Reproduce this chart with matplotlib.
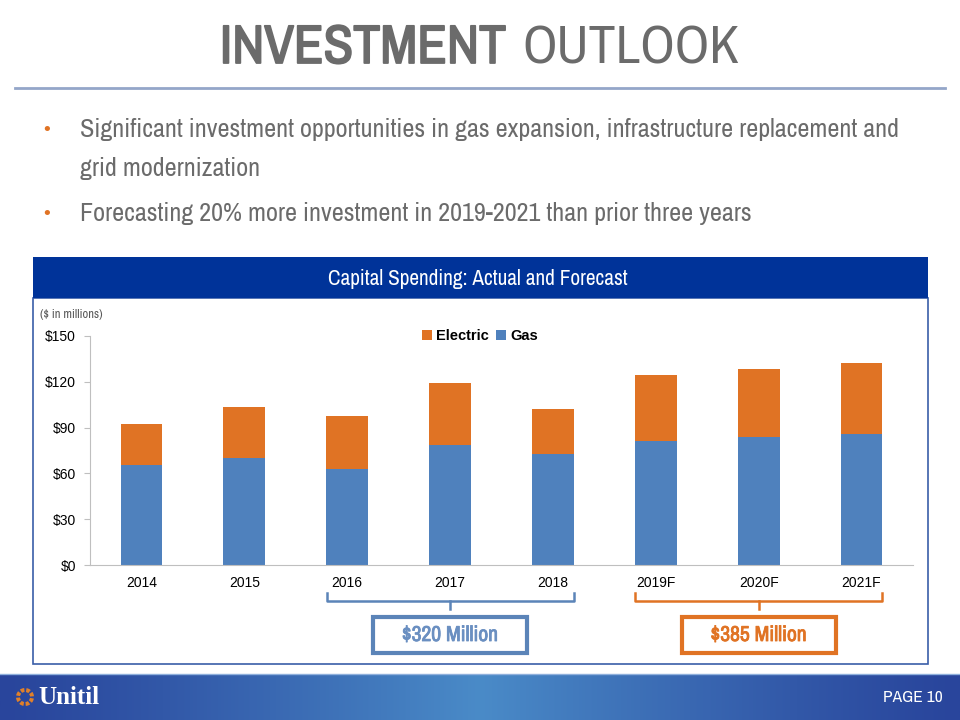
import numpy as np
import matplotlib
matplotlib.use("Agg")
import matplotlib.pyplot as plt
import matplotlib.patheffects as pe
from matplotlib.patches import Rectangle, Wedge
from matplotlib.transforms import blended_transform_factory

# data ($ millions)
years = ["2014", "2015", "2016", "2017", "2018", "2019F", "2020F", "2021F"]
gas = [65.2, 70.0, 62.6, 78.5, 72.4, 81.0, 84.0, 86.0]
electric = [27.2, 33.8, 35.3, 40.5, 30.1, 43.5, 44.5, 46.0]
yticks = [0, 30, 60, 90, 120, 150]
ytick_labels = ["$0", "$30", "$60", "$90", "$120", "$150"]
title_bold = "INVESTMENT"
title_rest = "OUTLOOK"
bullets = ["Significant investment opportunities in gas expansion, infrastructure replacement and\ngrid modernization",
           "Forecasting 20% more investment in 2019-2021 than prior three years"]
box_labels = ["$320 Million", "$385 Million"]

BLUE = "#4f81bd"
ORANGE = "#e07324"
GREY = "#6b6b6b"
NARROW = ["Arial Narrow", "Liberation Sans Narrow", "Archivo Narrow", "PT Sans Narrow",
          "Roboto Condensed", "DejaVu Sans"]
ARIAL = ["Liberation Sans", "DejaVu Sans"]

W, H = 960, 720
fig = plt.figure(figsize=(9.6, 7.2), dpi=100)


def fx(px):
    return px / W


def fy(py):
    return 1 - py / H


def heavy(color, lw):
    # the narrow font has no bold face here, so thicken the strokes a little
    return [pe.withStroke(linewidth=lw, foreground=color)]


# title
fig.text(fx(506), fy(48), title_bold, family=NARROW, fontsize=39, color=GREY,
         ha="right", va="center", path_effects=heavy(GREY, 1.3))
fig.text(fx(522), fy(48), title_rest, family=NARROW, fontsize=39, color=GREY,
         ha="left", va="center")
fig.add_artist(plt.Line2D([fx(15), fx(945)], [fy(88), fy(88)], color="#94a6c9", lw=2))

# bullets
for by, txt in zip([130, 214], bullets):
    fig.text(fx(47), fy(by), "\u2022", color=ORANGE, fontsize=13, ha="center", va="center")
    fig.text(fx(80), fy(by - 12), txt, family=NARROW, fontsize=18.8, color=GREY,
             ha="left", va="top", linespacing=1.85)

# header band and panel
fig.add_artist(Rectangle((fx(33), fy(664)), fx(928) - fx(33), fy(298) - fy(664),
                         transform=fig.transFigure, facecolor="white", edgecolor="#3a5da8",
                         lw=1.2, zorder=-10))
fig.add_artist(Rectangle((fx(33), fy(298)), fx(928) - fx(33), fy(257) - fy(298),
                         transform=fig.transFigure, facecolor="#003399", edgecolor="none"))
fig.text(fx(478), fy(279), "Capital Spending: Actual and Forecast", family=NARROW, fontsize=15.3,
         color="white", ha="center", va="center")
fig.text(fx(40), fy(315), "($ in millions)", family=NARROW, fontsize=9, color="#595959",
         ha="left", va="center")

# chart
ax = fig.add_axes([fx(90), fy(565), fx(913) - fx(90), fy(336) - fy(565)])
ax.patch.set_alpha(0)
x = np.arange(len(years))
ax.bar(x, gas, width=0.405, color=BLUE, label="Gas")
ax.bar(x, electric, width=0.405, bottom=gas, color=ORANGE, label="Electric")
ax.set_xlim(-0.5, len(years) - 0.5)
ax.set_ylim(0, 150)
ax.set_yticks(yticks)
ax.set_yticklabels(ytick_labels, family=ARIAL, fontsize=10)
ax.set_xticks(x)
ax.set_xticklabels(years, family=ARIAL, fontsize=10)
for s in ["top", "right"]:
    ax.spines[s].set_visible(False)
for s in ["left", "bottom"]:
    ax.spines[s].set_color("#bfbfbf")
ax.tick_params(axis="y", length=4, color="#bfbfbf", pad=6)
ax.tick_params(axis="x", length=0, pad=8)
handles, labels = ax.get_legend_handles_labels()
ax.legend(handles[::-1], labels[::-1], loc="center", bbox_to_anchor=(0.474, 1.0), ncol=2,
          frameon=False, handlelength=0.7, handleheight=0.7, handletextpad=0.3, columnspacing=0.5,
          prop={"family": ARIAL, "weight": "bold", "size": 10.5})

# brackets and totals boxes
tr = blended_transform_factory(ax.transData, fig.transFigure)
groups = [(1.8, 4.2, "#5b84b8", "#6a8fc1"), (4.8, 7.2, ORANGE, ORANGE)]
for (x0, x1, ec, tc), lab in zip(groups, box_labels):
    xm = (x0 + x1) / 2
    ax.plot([x0, x0, x1, x1], [fy(593), fy(601), fy(601), fy(593)], transform=tr,
            color=ec, lw=1.8, clip_on=False, solid_joinstyle="round")
    ax.plot([xm, xm], [fy(601), fy(609)], transform=tr, color=ec, lw=1.8, clip_on=False)
    bw = 1.5
    ax.add_patch(Rectangle((xm - bw / 2, fy(653)), bw, fy(617) - fy(653), transform=tr,
                           facecolor="white", edgecolor=ec, lw=3, clip_on=False))
    ax.text(xm, fy(635), lab, transform=tr, family=NARROW, fontsize=15.5,
            color=tc, ha="center", va="center", path_effects=heavy(tc, 0.6))

# footer gradient
fax = fig.add_axes([0, 0, 1, fy(674)])
t = np.linspace(-1, 1, 400)
c0 = np.array([0x29, 0x45, 0x9c]) / 255
c1 = np.array([0x4a, 0x8b, 0xc8]) / 255
w = (1 - np.abs(t)) ** 1.2
grad = c0[None, :] * (1 - w[:, None]) + c1[None, :] * w[:, None]
fax.imshow(grad[None, :, :], aspect="auto", extent=[0, 1, 0, 1])
fax.set_axis_off()
fig.add_artist(plt.Line2D([0, 1], [fy(674), fy(674)], color="#8fb0dc", lw=1))

# logo
for k in range(8):
    fig.add_artist(Wedge((25, 720 - 697), 9, k * 45 + 5, k * 45 + 35, width=4,
                         transform=None, facecolor="#e0802a", edgecolor="none"))
fig.text(fx(38), fy(697), "Unitil", family=["Liberation Serif", "DejaVu Serif"], weight="bold",
         fontsize=18, color="white", ha="left", va="center")
fig.text(fx(943), fy(697), "PAGE 10", family=NARROW, fontsize=12.5, color="white",
         ha="right", va="center")

fig.savefig("out.png", dpi=100)
